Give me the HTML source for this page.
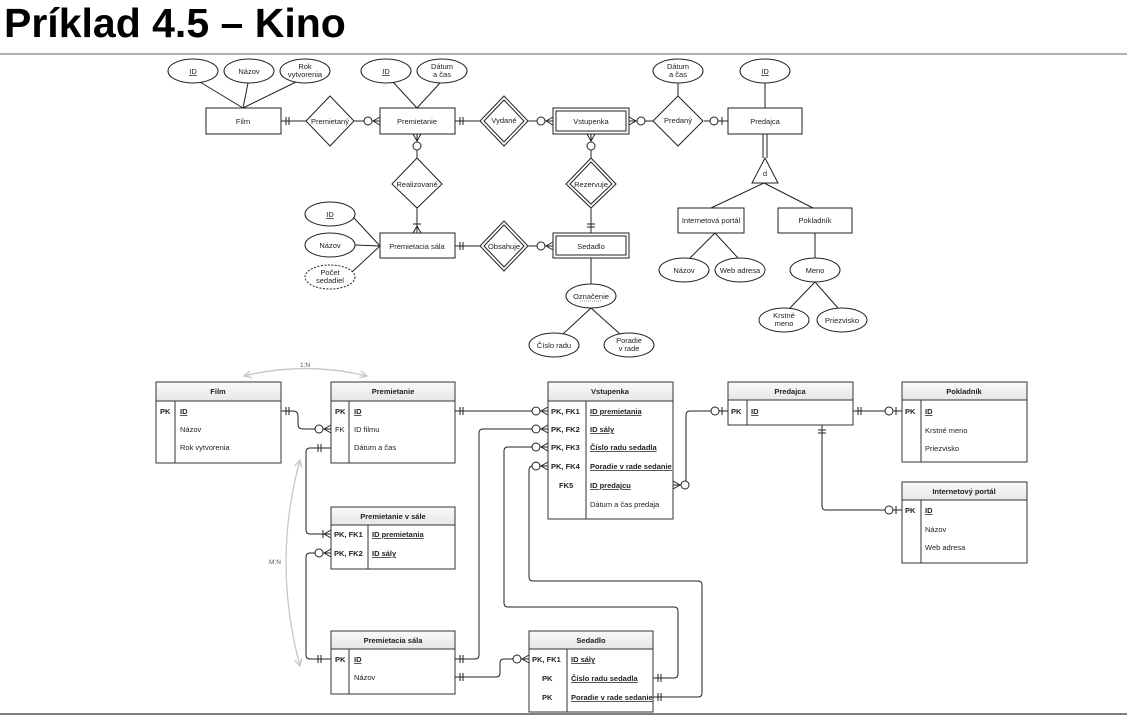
<!DOCTYPE html>
<html><head><meta charset="utf-8"><style>
html,body{margin:0;padding:0;background:#fff;}
body{width:1127px;height:717px;overflow:hidden;position:relative;}
svg{position:absolute;left:0;top:0;}
text{font-family:"Liberation Sans",sans-serif;font-size:7.5px;fill:#222;}
.b{font-weight:bold;}
.s{stroke:#222;stroke-width:1;fill:none;}
.w{stroke:#222;stroke-width:1;fill:#fff;}
.g{stroke:#c8c8c8;stroke-width:1.2;fill:none;}
</style></head><body>
<svg width="1127" height="717" viewBox="0 0 1127 717">
<defs>
<linearGradient id="hg" x1="0" y1="0" x2="0" y2="1"><stop offset="0" stop-color="#fafafa"/><stop offset="1" stop-color="#e6e6e6"/></linearGradient>
<marker id="ga" markerWidth="8" markerHeight="8" refX="6" refY="4" orient="auto"><path d="M0,1 L6,4 L0,7" fill="none" stroke="#c8c8c8" stroke-width="1.2"/></marker>
</defs>
<text x="4" y="37" style="font-size:41px;font-weight:bold;fill:#000">Príklad 4.5 – Kino</text>
<line x1="0" y1="54" x2="1127" y2="54" stroke="#999" stroke-width="1.5"/>
<line x1="0" y1="714" x2="1127" y2="714" stroke="#555" stroke-width="1.5"/>

<!-- ===== TOP ER ===== -->
<g class="s">
<path d="M200,82 L243,108 M248,83 L243,108 M296,82 L243,108"/>
<path d="M393,82 L417,108 M440,83 L417,108"/>
<path d="M678,83 L678,96 M765,83 L765,108"/>
<path d="M354,218 L380,246 M355,245 L380,246 M352,272 L380,246"/>
<path d="M281,121 H306 M354,121 H380 M455,121 H480 M528,121 H553 M629,121 H653 M704,121 H728"/>
<path d="M417,134 V158 M417,208 V233 M591,134 V158 M591,208 V233"/>
<path d="M455,246 H480 M528,246 H553 M591,258 V284 M591,308 L563,334 M591,308 L620,334"/>
<path d="M763,134 V158 M767,134 V158"/>
<path d="M764,183 L711,208 M764,183 L813,208 M715,233 L690,258 M715,233 L738,258 M815,233 V258 M815,282 L790,308 M815,282 L838,308"/>
<path d="M286,117 V125 M289,117 V125"/>
<path d="M373,121 L380,117 M373,121 L380,125"/>
<path d="M460,117 V125 M463,117 V125"/>
<path d="M546,121 L553,117 M546,121 L553,125"/>
<path d="M636,121 L629,117 M636,121 L629,125"/>
<path d="M722,117 V125"/>
<path d="M417,141 L413,134 M417,141 L421,134 M591,141 L587,134 M591,141 L595,134"/>
<path d="M417,226 L413,233 M417,226 L421,233 M413,224 H421"/>
<path d="M587,224 H595 M587,227 H595"/>
<path d="M460,242 V250 M463,242 V250"/>
<path d="M546,246 L553,242 M546,246 L553,250"/>
</g>
<g class="w">
<circle cx="368" cy="121" r="4"/><circle cx="541" cy="121" r="4"/><circle cx="641" cy="121" r="4"/><circle cx="714" cy="121" r="4"/>
<circle cx="417" cy="146" r="4"/><circle cx="591" cy="146" r="4"/><circle cx="541" cy="246" r="4"/>
<ellipse cx="193" cy="71" rx="25" ry="12"/><ellipse cx="249" cy="71" rx="25" ry="12"/><ellipse cx="305" cy="71" rx="25" ry="12"/>
<ellipse cx="386" cy="71" rx="25" ry="12"/><ellipse cx="442" cy="71" rx="25" ry="12"/>
<ellipse cx="678" cy="71" rx="25" ry="12"/><ellipse cx="765" cy="71" rx="25" ry="12"/>
<ellipse cx="330" cy="214" rx="25" ry="12"/><ellipse cx="330" cy="245" rx="25" ry="12"/>
<ellipse cx="330" cy="277" rx="25" ry="12" stroke-dasharray="2,1.5"/>
<ellipse cx="591" cy="296" rx="25" ry="12"/><ellipse cx="554" cy="345" rx="25" ry="12"/><ellipse cx="629" cy="345" rx="25" ry="12"/>
<ellipse cx="684" cy="270" rx="25" ry="12"/><ellipse cx="740" cy="270" rx="25" ry="12"/><ellipse cx="815" cy="270" rx="25" ry="12"/>
<ellipse cx="784" cy="320" rx="25" ry="12"/><ellipse cx="842" cy="320" rx="25" ry="12"/>
<rect x="206" y="108" width="75" height="26"/><rect x="380" y="108" width="75" height="26"/>
<rect x="553" y="108" width="76" height="26"/><rect x="556" y="111" width="70" height="20"/>
<rect x="728" y="108" width="74" height="26"/>
<rect x="380" y="233" width="75" height="25"/>
<rect x="553" y="233" width="76" height="25"/><rect x="556" y="236" width="70" height="19"/>
<rect x="678" y="208" width="66" height="25"/><rect x="778" y="208" width="74" height="25"/>
<path d="M330,96 L354,121 L330,146 L306,121Z"/>
<path d="M504,96 L528,121 L504,146 L480,121Z"/><path d="M504,100 L524,121 L504,142 L484,121Z"/>
<path d="M678,96 L703,121 L678,146 L653,121Z"/>
<path d="M417,158 L442,184 L417,208 L392,184Z"/>
<path d="M591,158 L616,184 L591,208 L566,184Z"/><path d="M591,162 L612,184 L591,204 L570,184Z"/>
<path d="M504,221 L528,246 L504,271 L480,246Z"/><path d="M504,225 L524,246 L504,267 L484,246Z"/>
<path d="M765,158 L778,183 L752,183Z"/>
</g>
<g text-anchor="middle">
<text x="193" y="74" text-decoration="underline">ID</text><text x="249" y="74">Názov</text>
<text x="305" y="69">Rok</text><text x="305" y="77">vytvorenia</text>
<text x="386" y="74" text-decoration="underline">ID</text><text x="442" y="69">Dátum</text><text x="442" y="77">a čas</text>
<text x="678" y="69">Dátum</text><text x="678" y="77">a čas</text><text x="765" y="74" text-decoration="underline">ID</text>
<text x="243" y="124">Film</text><text x="330" y="124">Premietaný</text><text x="417" y="124">Premietanie</text>
<text x="504" y="123">Vydané</text><text x="591" y="124">Vstupenka</text><text x="678" y="123">Predaný</text><text x="765" y="124">Predajca</text>
<text x="417" y="187">Realizované</text><text x="591" y="187">Rezervuje</text>
<text x="330" y="217" text-decoration="underline">ID</text><text x="330" y="248">Názov</text>
<text x="330" y="275">Počet</text><text x="330" y="283">sedadiel</text>
<text x="417" y="249">Premietacia sála</text><text x="504" y="249">Obsahuje</text><text x="591" y="249">Sedadlo</text>
<text x="591" y="299">Označenie</text><text x="554" y="348">Číslo radu</text>
<text x="629" y="343">Poradie</text><text x="629" y="351">v rade</text>
<text x="765" y="176">d</text>
<text x="711" y="223">Internetová portál</text><text x="815" y="223">Pokladník</text>
<text x="684" y="273">Názov</text><text x="740" y="273">Web adresa</text><text x="815" y="273">Meno</text>
<text x="784" y="318">Krstné</text><text x="784" y="326">meno</text><text x="842" y="323">Priezvisko</text>
</g>
<line x1="580" y1="301" x2="602" y2="301" stroke="#222" stroke-width="0.6" stroke-dasharray="1,1"/>

<!-- ===== BOTTOM TABLES ===== -->
<path class="g" d="M244,376 Q305,361 367,376" marker-end="url(#ga)"/>
<path class="g" d="M367,376 Q305,361 244,376" marker-end="url(#ga)"/>
<text x="305" y="367" text-anchor="middle" style="fill:#555;font-size:6.5px">1:N</text>
<path class="g" d="M300,460 Q272,562 300,666" marker-end="url(#ga)"/>
<path class="g" d="M300,666 Q272,562 300,460" marker-end="url(#ga)"/>
<text x="275" y="564" text-anchor="middle" style="fill:#555;font-size:6.5px">M:N</text>

<g class="s">
<path d="M281,411 H293 Q298,411 298,416 V424 Q298,429 303,429 H331"/>
<path d="M331,448 H310 Q306,448 306,452 V530 Q306,534 310,534 H331"/>
<path d="M331,553 H310 Q306,553 306,557 V655 Q306,659 310,659 H331"/>
<path d="M455,411 H548"/>
<path d="M455,659 H475 Q479,659 479,655 V433 Q479,429 483,429 H548"/>
<path d="M455,677 H496 Q500,677 500,673 V663 Q500,659 504,659 H529"/>
<path d="M653,678 H674 Q678,678 678,674 V611 Q678,607 674,607 H508 Q504,607 504,603 V451 Q504,447 508,447 H548"/>
<path d="M653,697 H698 Q702,697 702,693 V585 Q702,581 698,581 H533 Q529,581 529,577 V470 Q529,466 533,466 H548"/>
<path d="M673,485 H682 Q686,485 686,481 V415 Q686,411 690,411 H728"/>
<path d="M853,411 H902"/>
<path d="M822,425 V506 Q822,510 826,510 H902"/>
<path d="M286,407 V415 M289,407 V415"/>
<path d="M324,429 L331,425 M324,429 L331,433"/>
<path d="M318,444 V452 M321,444 V452"/>
<path d="M324,534 L331,530 M324,534 L331,538 M323,530 V538"/>
<path d="M324,553 L331,549 M324,553 L331,557"/>
<path d="M318,655 V663 M321,655 V663"/>
<path d="M460,407 V415 M463,407 V415"/>
<path d="M541,411 L548,407 M541,411 L548,415 M541,429 L548,425 M541,429 L548,433 M541,447 L548,443 M541,447 L548,451 M541,466 L548,462 M541,466 L548,470"/>
<path d="M460,655 V663 M463,655 V663 M460,673 V681 M463,673 V681"/>
<path d="M522,659 L529,655 M522,659 L529,663"/>
<path d="M658,674 V682 M661,674 V682 M658,693 V701 M661,693 V701"/>
<path d="M680,485 L673,481 M680,485 L673,489"/>
<path d="M722,407 V415 M896,407 V415 M896,506 V514"/>
<path d="M858,407 V415 M861,407 V415 M818,430 H826 M818,433 H826"/>
</g>
<g class="w">
<circle cx="319" cy="429" r="4"/><circle cx="319" cy="553" r="4"/>
<circle cx="536" cy="411" r="4"/><circle cx="536" cy="429" r="4"/><circle cx="536" cy="447" r="4"/><circle cx="536" cy="466" r="4"/>
<circle cx="517" cy="659" r="4"/><circle cx="685" cy="485" r="4"/>
<circle cx="715" cy="411" r="4"/><circle cx="889" cy="411" r="4"/><circle cx="889" cy="510" r="4"/>
</g>

<g stroke="#333" stroke-width="1">
<rect x="156" y="382" width="125" height="81" fill="#fff"/><rect x="156" y="382" width="125" height="19" fill="url(#hg)"/><line x1="175" y1="401" x2="175" y2="463"/>
<rect x="331" y="382" width="124" height="81" fill="#fff"/><rect x="331" y="382" width="124" height="19" fill="url(#hg)"/><line x1="349" y1="401" x2="349" y2="463"/>
<rect x="548" y="382" width="125" height="137" fill="#fff"/><rect x="548" y="382" width="125" height="19" fill="url(#hg)"/><line x1="586" y1="401" x2="586" y2="519"/>
<rect x="331" y="507" width="124" height="62" fill="#fff"/><rect x="331" y="507" width="124" height="18" fill="url(#hg)"/><line x1="368" y1="525" x2="368" y2="569"/>
<rect x="331" y="631" width="124" height="63" fill="#fff"/><rect x="331" y="631" width="124" height="18" fill="url(#hg)"/><line x1="349" y1="649" x2="349" y2="694"/>
<rect x="529" y="631" width="124" height="81" fill="#fff"/><rect x="529" y="631" width="124" height="18" fill="url(#hg)"/><line x1="567" y1="649" x2="567" y2="712"/>
<rect x="728" y="382" width="125" height="43" fill="#fff"/><rect x="728" y="382" width="125" height="18" fill="url(#hg)"/><line x1="747" y1="400" x2="747" y2="425"/>
<rect x="902" y="382" width="125" height="80" fill="#fff"/><rect x="902" y="382" width="125" height="18" fill="url(#hg)"/><line x1="921" y1="400" x2="921" y2="462"/>
<rect x="902" y="482" width="125" height="81" fill="#fff"/><rect x="902" y="482" width="125" height="18" fill="url(#hg)"/><line x1="921" y1="500" x2="921" y2="563"/>
</g>
<g text-anchor="middle">
<text class="b" x="218" y="394">Film</text><text class="b" x="393" y="394">Premietanie</text><text class="b" x="610" y="394">Vstupenka</text>
<text class="b" x="393" y="519">Premietanie v sále</text><text class="b" x="393" y="643">Premietacia sála</text><text class="b" x="591" y="643">Sedadlo</text>
<text class="b" x="790" y="394">Predajca</text><text class="b" x="964" y="394">Pokladník</text><text class="b" x="964" y="494">Internetový portál</text>
</g>
<g>
<text class="b" x="160" y="414">PK</text><text class="b" x="180" y="414" text-decoration="underline">ID</text>
<text x="180" y="432">Názov</text><text x="180" y="450">Rok vytvorenia</text>
<text class="b" x="335" y="414">PK</text><text class="b" x="354" y="414" text-decoration="underline">ID</text>
<text x="335" y="432">FK</text><text x="354" y="432">ID filmu</text><text x="354" y="450">Dátum a čas</text>
<text class="b" x="551" y="414">PK, FK1</text><text class="b" x="590" y="414" text-decoration="underline">ID premietania</text>
<text class="b" x="551" y="432">PK, FK2</text><text class="b" x="590" y="432" text-decoration="underline">ID sály</text>
<text class="b" x="551" y="450">PK, FK3</text><text class="b" x="590" y="450" text-decoration="underline">Číslo radu sedadla</text>
<text class="b" x="551" y="469">PK, FK4</text><text class="b" x="590" y="469" text-decoration="underline">Poradie v rade sedanie</text>
<text class="b" x="559" y="488">FK5</text><text class="b" x="590" y="488" text-decoration="underline">ID predajcu</text>
<text x="590" y="507">Dátum a čas predaja</text>
<text class="b" x="334" y="537">PK, FK1</text><text class="b" x="372" y="537" text-decoration="underline">ID premietania</text>
<text class="b" x="334" y="556">PK, FK2</text><text class="b" x="372" y="556" text-decoration="underline">ID sály</text>
<text class="b" x="335" y="662">PK</text><text class="b" x="354" y="662" text-decoration="underline">ID</text><text x="354" y="680">Názov</text>
<text class="b" x="532" y="662">PK, FK1</text><text class="b" x="571" y="662" text-decoration="underline">ID sály</text>
<text class="b" x="542" y="681">PK</text><text class="b" x="571" y="681" text-decoration="underline">Číslo radu sedadla</text>
<text class="b" x="542" y="700">PK</text><text class="b" x="571" y="700" text-decoration="underline">Poradie v rade sedanie</text>
<text class="b" x="731" y="414">PK</text><text class="b" x="751" y="414" text-decoration="underline">ID</text>
<text class="b" x="905" y="414">PK</text><text class="b" x="925" y="414" text-decoration="underline">ID</text>
<text x="925" y="433">Krstné meno</text><text x="925" y="451">Priezvisko</text>
<text class="b" x="905" y="513">PK</text><text class="b" x="925" y="513" text-decoration="underline">ID</text>
<text x="925" y="532">Názov</text><text x="925" y="550">Web adresa</text>
</g>
</svg>
</body></html>
